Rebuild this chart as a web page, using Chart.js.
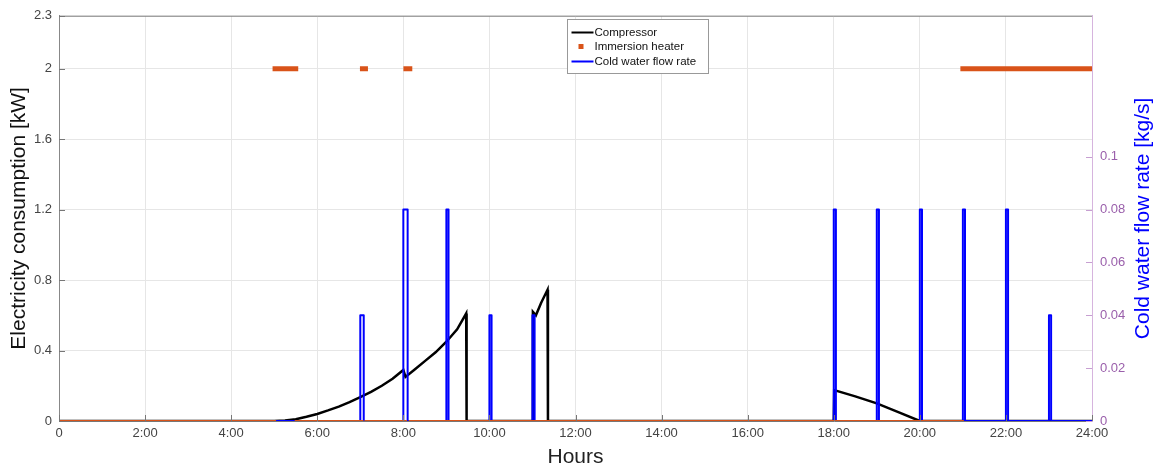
<!DOCTYPE html>
<html>
<head>
<meta charset="utf-8">
<script src="https://cdn.jsdelivr.net/npm/chart.js@4.4.0/dist/chart.umd.min.js"></script>
<style>
html, body { margin: 0; padding: 0; background: #fff; }
#wrap { width: 1163px; height: 470px; }
</style>
</head>
<body>
<div id="wrap"><canvas id="c"></canvas></div>
<script>
// compressor power [kW] vs time of day [h]
var compTime = [0, 5.0, 5.25, 5.5, 5.75, 6.0, 6.25, 6.5, 6.75, 7.0, 7.25, 7.5, 7.75, 8.0, 8.05, 8.25, 8.5, 8.75, 9.0, 9.25, 9.46, 9.47,
                11.0, 11.01, 11.08, 11.2, 11.35, 11.36, 18.0, 18.01, 18.5, 19.0, 19.5, 20.0, 24];
var compKW   = [0, 0, 0.003, 0.01, 0.024, 0.04, 0.06, 0.082, 0.107, 0.135, 0.165, 0.2, 0.24, 0.29, 0.25, 0.29, 0.34, 0.39, 0.45, 0.52, 0.61, 0,
                0, 0.62, 0.6, 0.67, 0.745, 0, 0, 0.175, 0.14, 0.1, 0.05, 0, 0];

// immersion heater on periods [h], level when on [kW]
var heaterOnStart = [5.02, 7.05, 8.06, 21.0];
var heaterOnEnd   = [5.5, 7.12, 8.15, 24.0];
var heaterKW = 2;

// cold water draws: start, end [h] and flow rate [kg/s]
var flowStart = [7.0, 8.0, 9.0, 10.0, 11.0, 18.0, 19.0, 20.0, 21.0, 22.0, 23.0];
var flowEnd   = [7.08, 8.1, 9.05, 10.05, 11.05, 18.05, 19.05, 20.05, 21.05, 22.05, 23.05];
var flowRate  = [0.04, 0.08, 0.08, 0.04, 0.04, 0.08, 0.08, 0.08, 0.08, 0.08, 0.04];

var hourTicks  = [0, 2, 4, 6, 8, 10, 12, 14, 16, 18, 20, 22, 24];
var kwTicks    = [0, 0.4, 0.8, 1.2, 1.6, 2, 2.3];
var flowTicks  = [0, 0.02, 0.04, 0.06, 0.08, 0.1];

var FONT = 'Liberation Sans, Arial, sans-serif';
var PURPLE = '#9a5fab';

var compData = compTime.map(function(t, i){ return {x: t, y: compKW[i]}; });

var heaterData = [];
var prev = 0;
for (var i = 0; i < heaterOnStart.length; i++) {
    if (heaterOnStart[i] > prev) {
        heaterData.push({x: prev, y: 0}, {x: heaterOnStart[i], y: 0}, {x: heaterOnStart[i], y: null});
    }
    heaterData.push({x: heaterOnStart[i], y: heaterKW}, {x: heaterOnEnd[i], y: heaterKW}, {x: heaterOnEnd[i], y: null});
    prev = heaterOnEnd[i];
}
if (prev < 24) heaterData.push({x: prev, y: 0}, {x: 24, y: 0});

var flowData = [{x: 0, y: 0}];
for (var j = 0; j < flowStart.length; j++) {
    flowData.push({x: flowStart[j], y: 0}, {x: flowStart[j], y: flowRate[j]},
                  {x: flowEnd[j], y: flowRate[j]}, {x: flowEnd[j], y: 0});
}
flowData.push({x: 24, y: 0});

function plain(v) { return String(v); }

// box, inward ticks, y titles and the legend inside the plot
var framePlugin = {
    id: 'frame',
    afterDraw: function(chart) {
        var c = chart.ctx, a = chart.chartArea;
        var y = chart.scales.y, y1 = chart.scales.y1, x = chart.scales.x;
        c.save();
        c.lineWidth = 1;
        c.strokeStyle = '#888';
        c.beginPath();
        c.moveTo(a.left, a.top + 0.5); c.lineTo(a.right, a.top + 0.5);
        c.stroke();
        c.strokeStyle = '#777';
        c.beginPath();
        kwTicks.forEach(function(v){
            var py = Math.round(y.getPixelForValue(v)) + 0.5;
            c.moveTo(a.left, py); c.lineTo(a.left + 6, py);
        });
        hourTicks.forEach(function(v){
            var px = Math.round(x.getPixelForValue(v)) + 0.5;
            c.moveTo(px, a.bottom); c.lineTo(px, a.bottom - 6);
        });
        c.stroke();
        c.strokeStyle = '#c79fd1';
        c.beginPath();
        flowTicks.forEach(function(v){
            var py = Math.round(y1.getPixelForValue(v)) + 0.5;
            c.moveTo(a.right, py); c.lineTo(a.right - 6, py);
        });
        c.stroke();

        // axis titles, both read bottom to top
        var midY = (a.top + a.bottom) / 2;
        c.textAlign = 'center';
        c.textBaseline = 'middle';
        c.font = '21px ' + FONT;
        c.fillStyle = '#111';
        c.save();
        c.translate(19, midY);
        c.rotate(-Math.PI / 2);
        c.fillText('Electricity consumption [kW]', 0, 0);
        c.restore();
        c.fillStyle = '#0000FF';
        c.save();
        c.translate(1143, midY);
        c.rotate(-Math.PI / 2);
        c.fillText('Cold water flow rate [kg/s]', 0, 0);
        c.restore();

        // legend
        var bx = 567.5, by = 19.5, bw = 141, bh = 54;
        c.textAlign = 'left';
        c.fillStyle = '#fff';
        c.fillRect(bx, by, bw, bh);
        c.strokeStyle = '#999';
        c.strokeRect(bx, by, bw, bh);
        c.font = '11.5px ' + FONT;
        var ds = chart.data.datasets;
        var rows = [by + 13, by + 27, by + 42];
        [ds[2], ds[0], ds[1]].forEach(function(d, k){
            var ry = rows[k];
            if (d.label === 'Immersion heater') {
                c.fillStyle = d.borderColor;
                c.fillRect(bx + 11, ry - 2.5, 5, 5);
            } else {
                c.strokeStyle = d.borderColor;
                c.lineWidth = 2;
                c.beginPath();
                c.moveTo(bx + 4, ry); c.lineTo(bx + 26, ry);
                c.stroke();
            }
            c.fillStyle = '#111';
            c.fillText(d.label, bx + 27, ry);
        });
        c.restore();
    }
};

new Chart(document.getElementById('c'), {
    type: 'line',
    data: {
        datasets: [
            {
                label: 'Immersion heater',
                data: heaterData,
                yAxisID: 'y',
                borderColor: '#D95319',
                borderWidth: 2,
                borderCapStyle: 'square',
                spanGaps: false,
                pointRadius: 0,
                order: 0,
                segment: {
                    borderWidth: function(ctx){ return ctx.p0.parsed.y > 1 ? 5 : 2; }
                }
            },
            {
                label: 'Cold water flow rate',
                data: flowData,
                yAxisID: 'y1',
                borderColor: '#0000FF',
                borderWidth: 2,
                borderJoinStyle: 'round',
                pointRadius: 0,
                order: 1
            },
            {
                label: 'Compressor',
                data: compData,
                yAxisID: 'y',
                borderColor: '#000',
                borderWidth: 2.5,
                pointRadius: 0,
                order: 2
            }
        ]
    },
    options: {
        responsive: true,
        maintainAspectRatio: false,
        animation: false,
        parsing: false,
        layout: { padding: { top: 4, right: 0, left: 0, bottom: 0 } },
        plugins: {
            legend: { display: false },
            tooltip: { enabled: false }
        },
        scales: {
            x: {
                type: 'linear',
                min: 0,
                max: 24,
                afterBuildTicks: function(s){ s.ticks = hourTicks.map(function(v){ return {value: v}; }); },
                afterFit: function(s){ s.height = 49; },
                ticks: {
                    callback: function(v){ return v === 0 ? '0' : v + ':00'; },
                    color: '#444',
                    font: { size: 13, family: FONT },
                    maxRotation: 0,
                    padding: 5
                },
                grid: { color: '#e6e6e6', drawTicks: false },
                border: { color: '#777' },
                title: { display: true, text: 'Hours', color: '#222', font: { size: 21, family: FONT }, padding: { top: 0, bottom: 0 } }
            },
            y: {
                position: 'left',
                min: 0,
                max: 2.3,
                afterBuildTicks: function(s){ s.ticks = kwTicks.map(function(v){ return {value: v}; }); },
                afterFit: function(s){ s.width = 59; },
                ticks: { color: '#444', font: { size: 13, family: FONT }, padding: 7, callback: plain },
                grid: { color: '#e6e6e6', drawTicks: false },
                border: { color: '#888' }
            },
            y1: {
                position: 'right',
                min: 0,
                max: 0.08 * 2.3 / 1.2,
                afterBuildTicks: function(s){ s.ticks = flowTicks.map(function(v){ return {value: v}; }); },
                afterFit: function(s){ s.width = 71; },
                ticks: { color: PURPLE, font: { size: 13, family: FONT }, padding: 8, callback: plain },
                grid: { drawOnChartArea: false, drawTicks: false },
                border: { color: '#d6b4de' }
            }
        }
    },
    plugins: [framePlugin]
});
</script>
</body>
</html>
